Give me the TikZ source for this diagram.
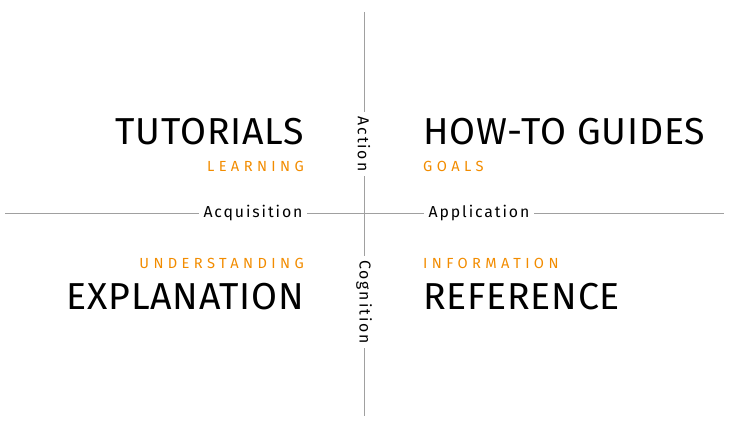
\documentclass[tikz,border=0pt]{standalone}
\usepackage{fontspec}
\setmainfont{Fira Sans}
\definecolor{orng}{HTML}{F28C00}
\definecolor{axis}{HTML}{A0A0A0}
\begin{document}
\begin{tikzpicture}[x=0.03cm,y=-0.03cm,
  big/.style={inner sep=0pt,font=\fontsize{32}{34}\selectfont\addfontfeature{LetterSpace=2}},
  sub/.style={inner sep=0pt,text=orng,font=\fontsize{12.5}{14}\selectfont\addfontfeature{LetterSpace=30}},
  ax/.style={inner sep=4pt,fill=white,font=\fontsize{13.5}{15}\selectfont\addfontfeature{LetterSpace=12}}]
\useasboundingbox (0,0) rectangle (745,422);
\coordinate (vt) at (364,12); \coordinate (vb) at (364,416);
\coordinate (hl) at (5,213); \coordinate (hr) at (724,213);
\draw[axis] (vt) -- (vb);
\draw[axis] (hl) -- (hr);
\node[big,anchor=east] (tut) at (304,132) {TUTORIALS};
\node[sub,anchor=east] (lea) at (304,166) {LEARNING};
\node[big,anchor=west] (how) at (423,132) {HOW-TO GUIDES};
\node[sub,anchor=west] (goa) at (423,166) {GOALS};
\node[sub,anchor=east] (und) at (304,263) {UNDERSTANDING};
\node[big,anchor=east] (exp) at (304,297) {EXPLANATION};
\node[sub,anchor=west] (inf) at (423,263) {INFORMATION};
\node[big,anchor=west] (ref) at (423,297) {REFERENCE};
\node[ax] (acq) at (253,213) {Acquisition};
\node[ax] (app) at (479,213) {Application};
\node[ax,rotate=-90] (act) at (364,144) {Action};
\node[ax,rotate=-90] (cog) at (364,302) {Cognition};
\end{tikzpicture}
\end{document}
